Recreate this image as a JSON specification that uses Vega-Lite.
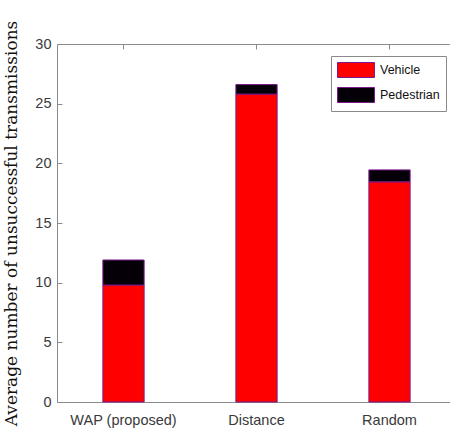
{
  "$schema": "https://vega.github.io/schema/vega-lite/v6.json",
  "autosize": {"type": "none"},
  "padding": {"left": 57, "top": 44, "right": 0, "bottom": 35},
  "width": 393,
  "height": 358,
  "background": "white",
  "config": {
    "view": {"stroke": null},
    "axis": {
      "domainColor": "#8a8a8a",
      "tickColor": "#8a8a8a",
      "grid": false,
      "labelFont": "Liberation Sans",
      "labelColor": "#3a3a3a",
      "labelFontSize": 14.5
    }
  },
  "data": {
    "values": [
      {"method": "WAP (proposed)", "type": "Vehicle", "value": 9.8, "ord": 1},
      {"method": "WAP (proposed)", "type": "Pedestrian", "value": 2.1, "ord": 2},
      {"method": "Distance", "type": "Vehicle", "value": 25.8, "ord": 1},
      {"method": "Distance", "type": "Pedestrian", "value": 0.8, "ord": 2},
      {"method": "Random", "type": "Vehicle", "value": 18.45, "ord": 1},
      {"method": "Random", "type": "Pedestrian", "value": 1.0, "ord": 2}
    ]
  },
  "resolve": {"axis": {"x": "independent"}},
  "layer": [
    {
      "mark": {"type": "bar", "stroke": "#7a1a8a", "strokeWidth": 1},
      "encoding": {
        "x": {
          "field": "method", "type": "nominal",
          "sort": ["WAP (proposed)", "Distance", "Random"],
          "scale": {"paddingInner": 0.69, "paddingOuter": 0.345, "range": [0, 399]},
          "axis": {"title": null, "labelAngle": 0, "tickSize": -5, "labelPadding": 16}
        },
        "y": {
          "field": "value", "type": "quantitative", "stack": "zero",
          "scale": {"domain": [0, 30], "nice": false},
          "axis": {
            "title": "Average number of unsuccessful transmissions",
            "titleFont": "DejaVu Serif", "titleFontWeight": "normal", "titleFontSize": 17,
            "titleColor": "#111111",
            "values": [0, 5, 10, 15, 20, 25, 30],
            "tickSize": -5, "labelPadding": 11, "titlePadding": 14
          }
        },
        "color": {
          "field": "type", "type": "nominal",
          "scale": {"domain": ["Vehicle", "Pedestrian"], "range": ["#ff0000", "#050008"]},
          "legend": {
            "title": null,
            "orient": "none",
            "legendX": 274,
            "legendY": 12,
            "strokeColor": "#8a8a8a",
            "fillColor": "white",
            "padding": 6,
            "symbolType": "M-1,-1H3.93V1H-1Z",
            "symbolSize": 225,
            "symbolStrokeColor": "#7a1a8a",
            "symbolStrokeWidth": 1,
            "labelOffset": 27,
            "labelFont": "Liberation Sans",
            "labelFontSize": 12.5,
            "labelColor": "#111111",
            "rowPadding": 5
          }
        },
        "order": {"field": "ord", "type": "quantitative"}
      }
    },
    {
      "mark": {"type": "rule", "opacity": 0},
      "encoding": {
        "x": {
          "field": "method", "type": "nominal",
          "sort": ["WAP (proposed)", "Distance", "Random"],
          "axis": {"orient": "top", "title": null, "labels": false, "domain": true, "tickSize": -5}
        }
      }
    }
  ]
}
